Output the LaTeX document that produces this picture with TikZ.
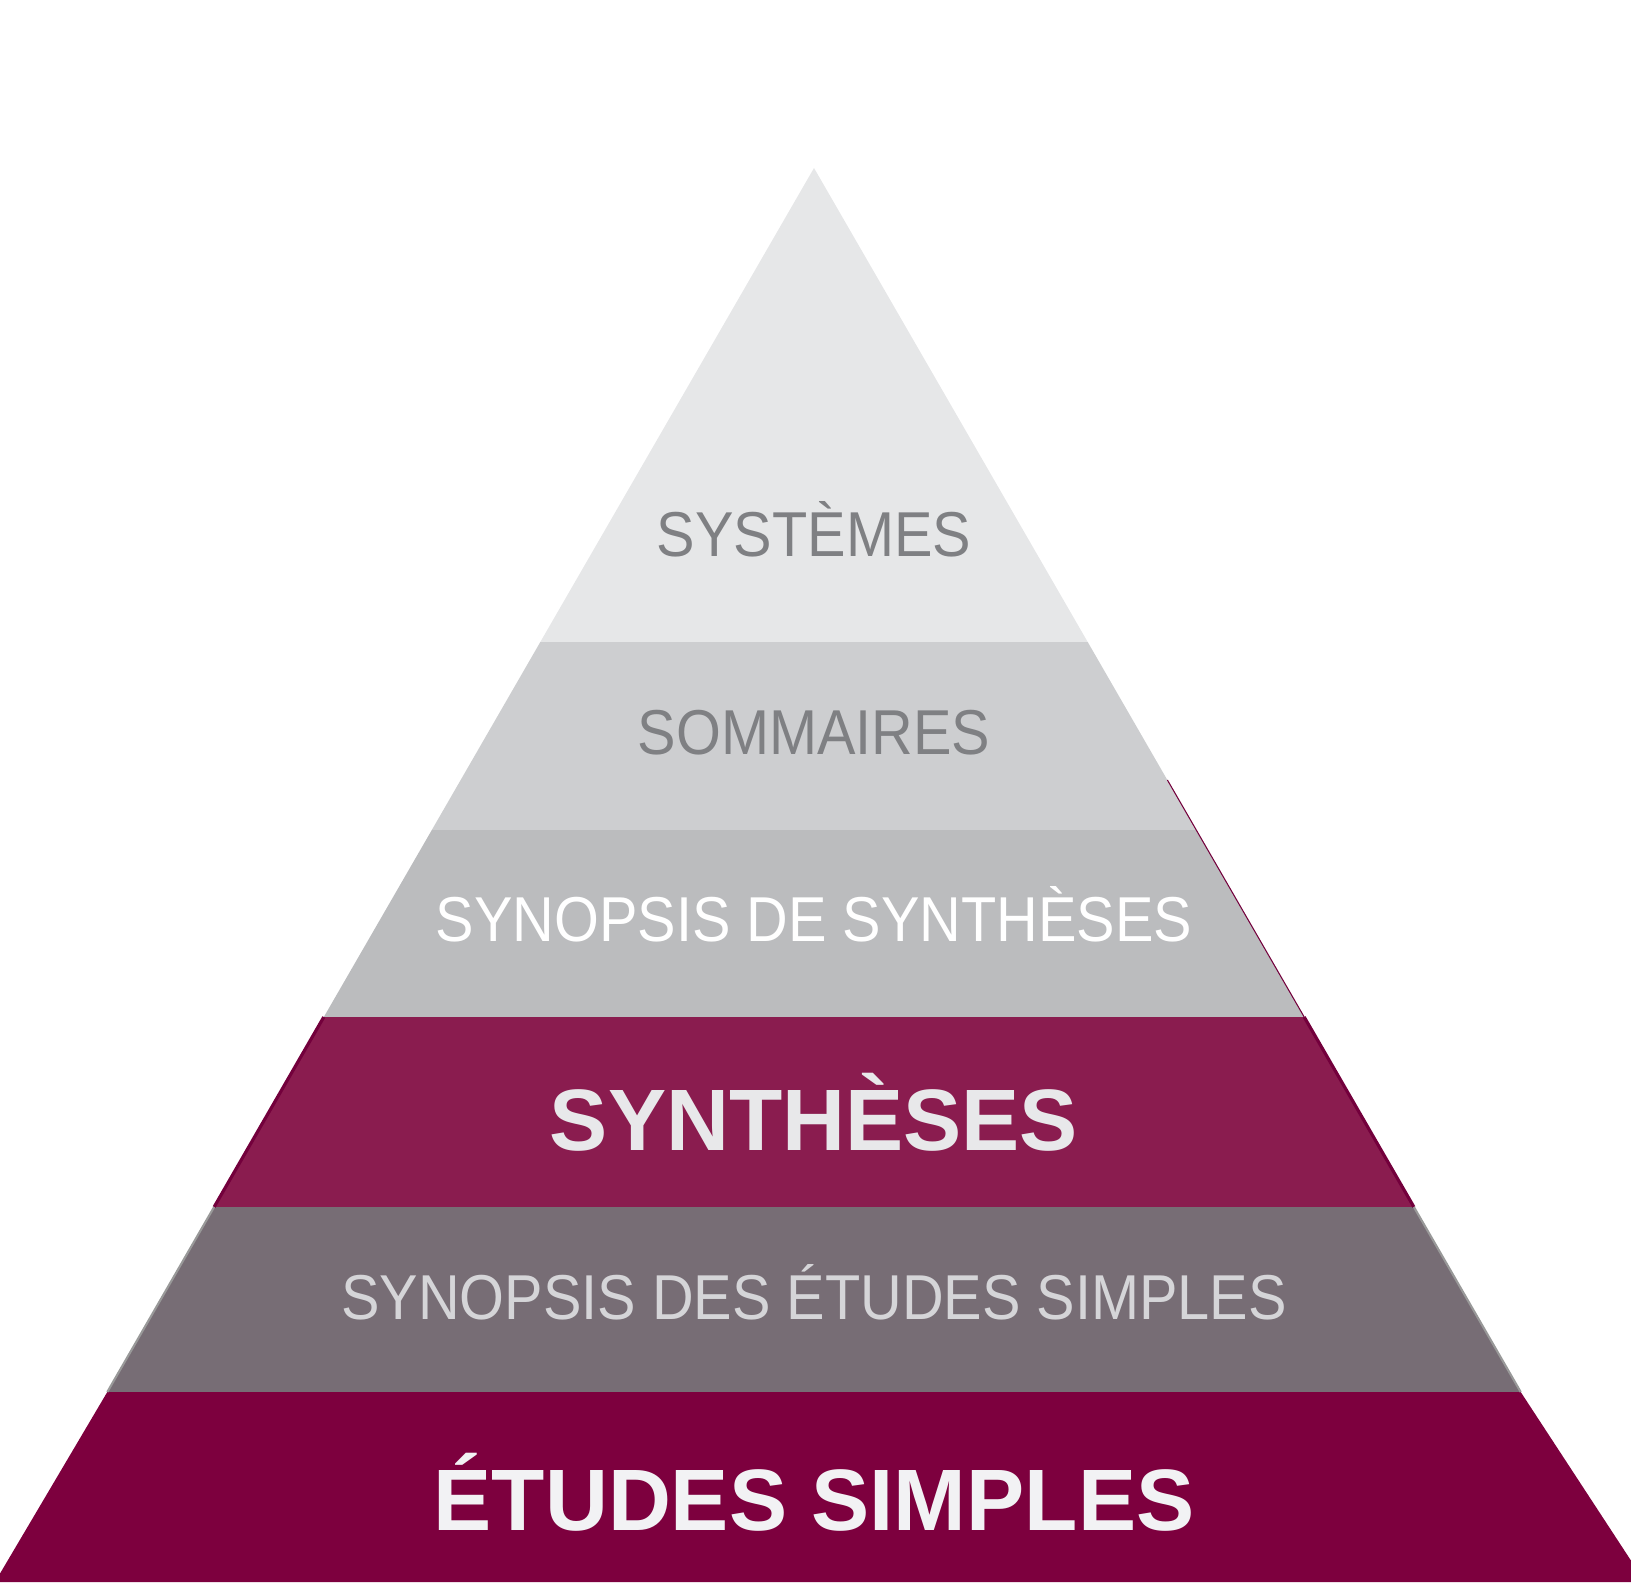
\documentclass[tikz,border=0pt]{standalone}
\usepackage{fontspec}
\setmainfont{Liberation Sans}
\definecolor{lvlone}{HTML}{E6E7E8}
\definecolor{lvltwo}{HTML}{CDCED0}
\definecolor{lvlthree}{HTML}{BBBCBE}
\definecolor{lvlfour}{HTML}{8A1C4F}
\definecolor{lvlfive}{HTML}{776D75}
\definecolor{lvlsix}{HTML}{7D003E}
\definecolor{greytxt}{HTML}{7F8083}
\definecolor{edgemaroon}{HTML}{73003C}
\newcommand{\tallcaps}[1]{\scalebox{1}[1.1]{#1}}
\tikzset{
  lbl/.style={anchor=base, inner sep=0pt, font=\fontsize{16.4}{19}\selectfont},
  biglbl/.style={anchor=base, inner sep=0pt, font=\fontsize{24.8}{29}\selectfont\bfseries},
}
\begin{document}
\begin{tikzpicture}[x=0.01cm, y=-0.01cm]
  \useasboundingbox (0,0) rectangle (1631,1582);
  \clip (0,0) rectangle (1631,1582);
  \fill[lvlone] (814,168) -- (1087.7,642) -- (540.3,642) -- cycle;
  \fill[lvltwo] (540.3,642) -- (1087.7,642) -- (1196.2,830) -- (431.8,830) -- cycle;
  \fill[lvlthree] (431.8,830) -- (1196.2,830) -- (1304.2,1017) -- (323.8,1017) -- cycle;
  \fill[lvlfour] (323.8,1017) -- (1304.2,1017) -- (1413.9,1207) -- (214.1,1207) -- cycle;
  \fill[lvlfive] (214.1,1207) -- (1413.9,1207) -- (1520.7,1392) -- (107.3,1392) -- cycle;
  \fill[lvlsix] (107.3,1392) -- (1520.7,1392) -- (1645,1582) -- (-5,1582) -- cycle;
  \draw[edgemaroon, line width=0.9pt] (323.8,1017) -- (214.1,1207);
  \draw[edgemaroon, line width=0.9pt] (1304.2,1017) -- (1413.9,1207);
  \draw[edgemaroon, line width=0.3pt] (1167.4,780) -- (1304.2,1017);
  \draw[gray!80, line width=0.6pt] (214.1,1207) -- (107.3,1392);
  \draw[gray!80, line width=0.6pt] (1413.9,1207) -- (1520.7,1392);

  \node[lbl, text=greytxt] (systemes) at (814,556) {\tallcaps{SYSTÈMES}};
  \node[lbl, text=greytxt] (sommaires) at (814,754) {\tallcaps{SOMMAIRES}};
  \node[lbl, text=white] (synsynth) at (814,941) {\tallcaps{SYNOPSIS DE SYNTHÈSES}};
  \node[biglbl, text={rgb,255:red,232;green,232;blue,234}] (syntheses) at (814,1150) {SYNTHÈSES};
  \node[lbl, text={rgb,255:red,213;green,213;blue,216}] (synetudes) at (814,1319) {\tallcaps{SYNOPSIS DES ÉTUDES SIMPLES}};
  \node[biglbl, text={rgb,255:red,242;green,242;blue,244}] (etudes) at (814,1530) {ÉTUDES SIMPLES};
\end{tikzpicture}
\end{document}
